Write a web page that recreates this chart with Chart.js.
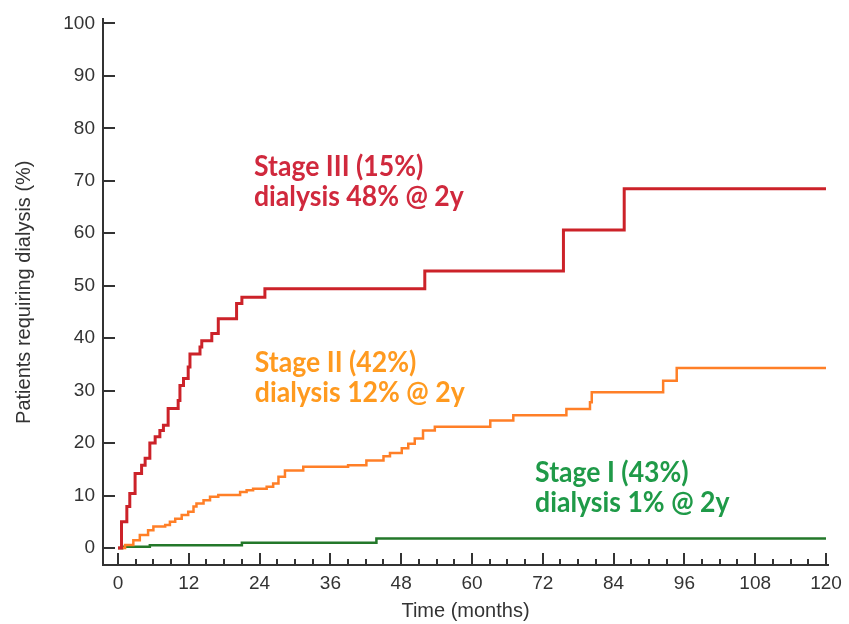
<!DOCTYPE html>
<html>
<head>
<meta charset="utf-8">
<script src="https://cdn.jsdelivr.net/npm/chart.js@4.4.1/dist/chart.umd.min.js"></script>
<style>
  html, body { margin: 0; padding: 0; background: #fff; }
  #wrap { width: 849px; height: 624px; }
</style>
</head>
<body>
<div id="wrap"><canvas id="dialysis" width="849" height="624"></canvas></div>
<script>
// tick values
const xTicks = [0, 12, 24, 36, 48, 60, 72, 84, 96, 108, 120];
const xMinorTicks = [0, 3, 6, 9, 12, 15, 18, 21, 24, 27, 30, 33, 36, 39, 42, 45, 48, 51, 54, 57, 60,
    63, 66, 69, 72, 75, 78, 81, 84, 87, 90, 93, 96, 99, 102, 105, 108, 111, 114, 117, 120];
const yTicks = [0, 10, 20, 30, 40, 50, 60, 70, 80, 90, 100];

// Stage III - cumulative % on dialysis (step points: time, new level)
const stage3Time = [0, 0.6, 1.5, 2.0, 2.9, 4.0, 4.6, 5.4, 6.3, 7.1, 7.7, 8.5, 10.2, 10.5, 11.1, 11.9,
    12.2, 13.9, 14.2, 15.9, 17.0, 20.1, 21.0, 24.9, 52.0, 75.5, 85.8, 120];
const stage3Pct = [0, 5.0, 7.9, 10.4, 14.2, 15.8, 17.1, 20.0, 21.2, 22.4, 23.4, 26.6, 28.1, 31.0, 32.3, 34.5,
    37.0, 38.3, 39.5, 40.9, 43.7, 46.6, 47.8, 49.4, 52.8, 60.6, 68.5, 68.5];

// Stage II
const stage2Time = [0, 1.2, 2.6, 3.7, 5.1, 6.0, 8.0, 8.8, 9.7, 10.8, 11.9, 12.8, 13.3, 14.5, 15.6, 17.0,
    20.7, 21.8, 22.9, 25.2, 26.3, 27.2, 28.3, 31.4, 39.0, 42.1, 45.0, 46.1, 48.1, 49.2, 50.3, 51.7,
    53.7, 63.1, 67.0, 76.0, 80.0, 80.3, 92.4, 94.7, 120];
const stage2Pct = [0, 0.6, 1.5, 2.5, 3.4, 4.1, 4.4, 5.0, 5.6, 6.3, 6.9, 7.9, 8.5, 9.1, 9.8, 10.1,
    10.7, 11.0, 11.3, 11.7, 12.3, 13.6, 14.8, 15.5, 15.8, 16.7, 17.5, 18.1, 19.0, 19.9, 20.9, 22.4,
    23.1, 24.3, 25.3, 26.5, 27.8, 29.7, 31.9, 34.3, 34.3];

// Stage I
const stage1Time = [0, 0.8, 5.4, 21.0, 43.8, 120];
const stage1Pct = [0, 0.25, 0.55, 1.0, 1.8, 1.8];

const toPoints = (t, v) => t.map((x, i) => ({ x: x, y: v[i] }));

// text next to the curves, anchored at (months, %) = left end of the first line's baseline
const notes = [
    { lines: ['Stage III (15%)', 'dialysis 48% @ 2y'], x: 23.05, y: 70.9, color: '#d0293d' },
    { lines: ['Stage II (42%)', 'dialysis 12% @ 2y'], x: 23.2, y: 33.5, color: '#ff9a1f' },
    { lines: ['Stage I (43%)', 'dialysis 1% @ 2y'], x: 70.7, y: 12.6, color: '#1f9a48' }
];

const tickMarks = {
    id: 'tickMarks',
    afterDraw(chart) {
        const { ctx, scales: { x, y }, chartArea } = chart;
        ctx.save();
        ctx.strokeStyle = '#333';
        ctx.lineWidth = 2;
        ctx.beginPath();
        xMinorTicks.forEach(v => {
            const px = Math.round(x.getPixelForValue(v));
            const len = v % 12 === 0 ? 12 : 6;
            ctx.moveTo(px, chartArea.bottom);
            ctx.lineTo(px, chartArea.bottom - len);
        });
        yTicks.forEach(v => {
            const py = Math.round(y.getPixelForValue(v));
            ctx.moveTo(chartArea.left, py);
            ctx.lineTo(chartArea.left + 12, py);
        });
        ctx.stroke();

        // Calibri-like bold captions, a bit narrow
        ctx.font = 'bold 28px Lato';
        ctx.textAlign = 'left';
        ctx.textBaseline = 'alphabetic';
        notes.forEach(n => {
            ctx.save();
            ctx.translate(x.getPixelForValue(n.x), y.getPixelForValue(n.y));
            ctx.scale(0.95, 1);
            ctx.fillStyle = n.color;
            n.lines.forEach((l, i) => ctx.fillText(l, 0, i * 30));
            ctx.restore();
        });
        ctx.restore();
    }
};

const data = {
    datasets: [
        {
            label: 'Stage III',
            data: toPoints(stage3Time, stage3Pct),
            borderColor: '#cc2229',
            borderWidth: 3
        },
        {
            label: 'Stage II',
            data: toPoints(stage2Time, stage2Pct),
            borderColor: '#ff7f27',
            borderWidth: 2.5
        },
        {
            label: 'Stage I',
            data: toPoints(stage1Time, stage1Pct),
            borderColor: '#23782a',
            borderWidth: 2.5
        }
    ]
};

const tickFont = { family: 'Liberation Sans', size: 19 };
const titleFont = { family: 'Liberation Sans', size: 20 };

const config = {
    type: 'line',
    data: data,
    options: {
        animation: false,
        responsive: false,
        elements: {
            point: { radius: 0 },
            line: { stepped: true, tension: 0, fill: false }
        },
        layout: { padding: { left: 0, right: 21, top: 18, bottom: 0 } },
        plugins: {
            legend: { display: false },
            tooltip: { enabled: false }
        },
        scales: {
            x: {
                type: 'linear',
                min: -2.54,
                max: 120.34,
                afterBuildTicks: s => { s.ticks = xTicks.map(v => ({ value: v })); },
                afterFit: s => { s.height = 59; },
                grid: { display: false, drawTicks: false },
                border: { display: true, color: '#333', width: 2 },
                ticks: { color: '#333', font: tickFont, padding: 7, maxRotation: 0, autoSkip: false },
                title: {
                    display: true,
                    text: 'Time (months)',
                    color: '#333',
                    font: titleFont,
                    padding: { top: 0, bottom: 1 }
                }
            },
            y: {
                type: 'linear',
                min: -3.23,
                max: 100.76,
                afterBuildTicks: s => { s.ticks = yTicks.map(v => ({ value: v })); },
                afterFit: s => { s.width = 103; },
                grid: { display: false, drawTicks: false },
                border: { display: true, color: '#333', width: 2 },
                ticks: { color: '#333', font: tickFont, padding: 8, autoSkip: false },
                title: {
                    display: true,
                    text: 'Patients requiring dialysis (%)',
                    color: '#333',
                    font: titleFont,
                    padding: { top: 12, bottom: 0 }
                }
            }
        }
    },
    plugins: [tickMarks]
};

new Chart(document.getElementById('dialysis').getContext('2d'), config);
</script>
</body>
</html>
